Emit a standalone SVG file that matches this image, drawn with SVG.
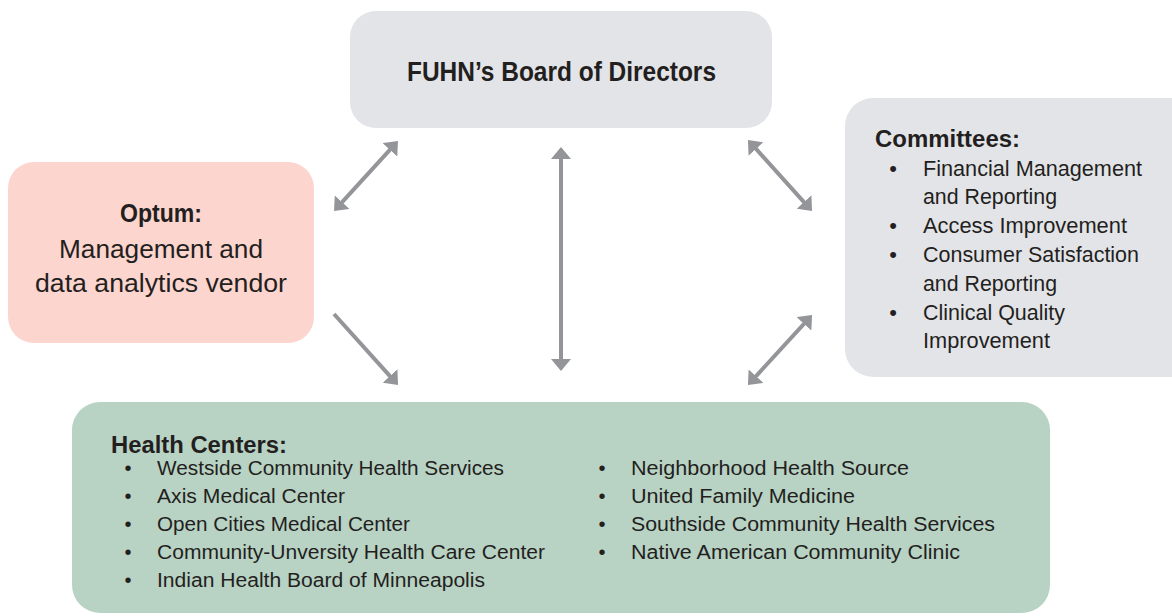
<svg xmlns="http://www.w3.org/2000/svg" width="1172" height="616" viewBox="0 0 1172 616">
  <style>
    text { font-family: "Liberation Sans", Arial, sans-serif; fill: #231f20; }
    .b { font-weight: bold; }
    .conn line { stroke: #939598; stroke-width: 4; fill: none; }
    .title { font-size: 28px; }
    .big { font-size: 26px; }
    .med { font-size: 22px; }
    .hd { font-size: 23px; }
    .sm { font-size: 20px; }
    .dot { text-anchor: middle; }
  </style>
  <defs>
    <marker id="head" viewBox="0 0 12 20" refX="3" refY="10" markerWidth="12" markerHeight="20" markerUnits="userSpaceOnUse" orient="auto-start-reverse">
      <path d="M0,0 L12,10 L0,20 Z" fill="#939598"/>
    </marker>
  </defs>

  <!-- Board of Directors -->
  <g id="board">
    <rect x="350" y="11" width="422" height="117" rx="26" fill="#e3e4e8"/>
    <text class="b title" x="407" y="81" textLength="309" lengthAdjust="spacingAndGlyphs">FUHN’s Board of Directors</text>
  </g>

  <!-- Optum -->
  <g id="optum">
    <rect x="8" y="162" width="306" height="181" rx="26" fill="#fdd5cf"/>
    <text class="b big" x="120" y="222" textLength="82" lengthAdjust="spacingAndGlyphs">Optum:</text>
    <text class="big" x="59" y="258" textLength="204" lengthAdjust="spacingAndGlyphs">Management and</text>
    <text class="big" x="35" y="292" textLength="252" lengthAdjust="spacingAndGlyphs">data analytics vendor</text>
  </g>

  <!-- Committees -->
  <g id="committees">
    <rect x="845" y="98" width="360" height="279" rx="28" fill="#e3e4e8"/>
    <text class="b hd" x="875" y="147" textLength="145" lengthAdjust="spacingAndGlyphs">Committees:</text>
    <g class="med">
      <text class="dot" x="893" y="176">•</text>
      <text x="923" y="176" textLength="219" lengthAdjust="spacingAndGlyphs">Financial Management</text>
      <text x="923" y="204" textLength="134" lengthAdjust="spacingAndGlyphs">and Reporting</text>
      <text class="dot" x="893" y="233">•</text>
      <text x="923" y="233" textLength="204" lengthAdjust="spacingAndGlyphs">Access Improvement</text>
      <text class="dot" x="893" y="262">•</text>
      <text x="923" y="262" textLength="216" lengthAdjust="spacingAndGlyphs">Consumer Satisfaction</text>
      <text x="923" y="291" textLength="134" lengthAdjust="spacingAndGlyphs">and Reporting</text>
      <text class="dot" x="893" y="320">•</text>
      <text x="923" y="320" textLength="142" lengthAdjust="spacingAndGlyphs">Clinical Quality</text>
      <text x="923" y="348" textLength="127" lengthAdjust="spacingAndGlyphs">Improvement</text>
    </g>
  </g>

  <!-- Health Centers -->
  <g id="health-centers">
    <rect x="72" y="402" width="978" height="211" rx="28" fill="#b8d2c4"/>
    <text class="b hd" x="111" y="453" textLength="176" lengthAdjust="spacingAndGlyphs">Health Centers:</text>
    <g class="sm">
      <text class="dot" x="128" y="475">•</text>
      <text x="157" y="475" textLength="347" lengthAdjust="spacingAndGlyphs">Westside Community Health Services</text>
      <text class="dot" x="128" y="503">•</text>
      <text x="157" y="503" textLength="188" lengthAdjust="spacingAndGlyphs">Axis Medical Center</text>
      <text class="dot" x="128" y="531">•</text>
      <text x="157" y="531" textLength="253" lengthAdjust="spacingAndGlyphs">Open Cities Medical Center</text>
      <text class="dot" x="128" y="559">•</text>
      <text x="157" y="559" textLength="388" lengthAdjust="spacingAndGlyphs">Community-Unversity Health Care Center</text>
      <text class="dot" x="128" y="587">•</text>
      <text x="157" y="587" textLength="328" lengthAdjust="spacingAndGlyphs">Indian Health Board of Minneapolis</text>

      <text class="dot" x="602" y="475">•</text>
      <text x="631" y="475" textLength="278" lengthAdjust="spacingAndGlyphs">Neighborhood Health Source</text>
      <text class="dot" x="602" y="503">•</text>
      <text x="631" y="503" textLength="224" lengthAdjust="spacingAndGlyphs">United Family Medicine</text>
      <text class="dot" x="602" y="531">•</text>
      <text x="631" y="531" textLength="364" lengthAdjust="spacingAndGlyphs">Southside Community Health Services</text>
      <text class="dot" x="602" y="559">•</text>
      <text x="631" y="559" textLength="329" lengthAdjust="spacingAndGlyphs">Native American Community Clinic</text>
    </g>
  </g>

  <!-- Connectors -->
  <g id="connectors" class="conn">
    <line x1="340.1" y1="204.4" x2="391.9" y2="147.6" marker-start="url(#head)" marker-end="url(#head)"/>
    <line x1="561" y1="156" x2="561" y2="362" marker-start="url(#head)" marker-end="url(#head)"/>
    <line x1="754" y1="146.7" x2="806" y2="204.3" marker-start="url(#head)" marker-end="url(#head)"/>
    <line x1="334" y1="314" x2="392" y2="378.3" marker-end="url(#head)"/>
    <line x1="806" y1="321.6" x2="754" y2="378.4" marker-start="url(#head)" marker-end="url(#head)"/>
  </g>
</svg>
